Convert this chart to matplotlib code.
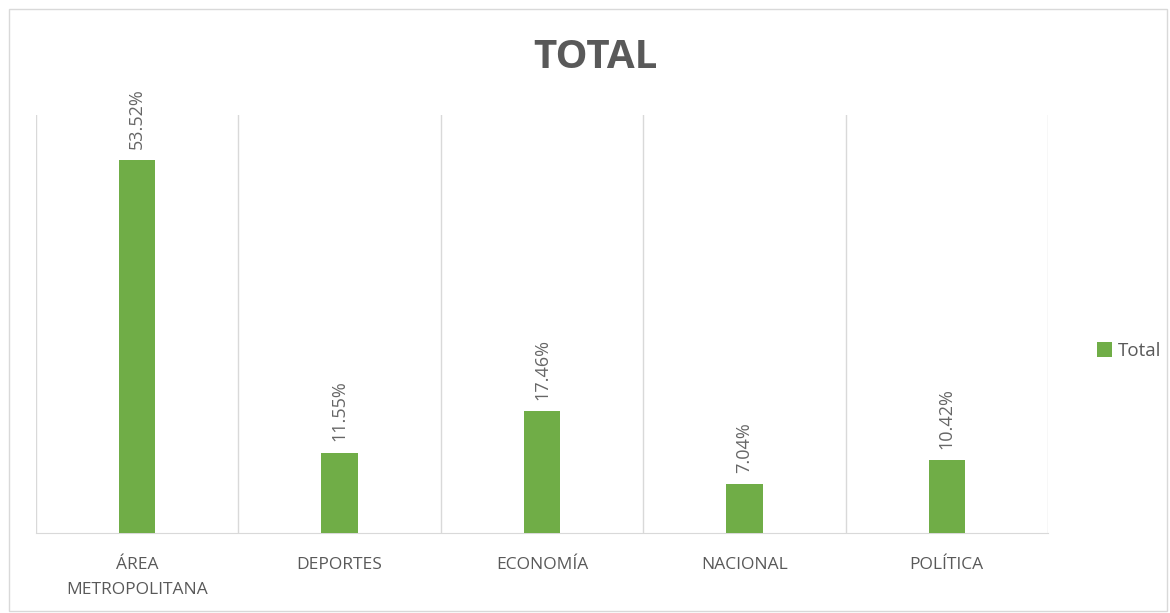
import matplotlib.pyplot as plt
from matplotlib.patches import Rectangle

categories = ['ÁREA\nMETROPOLITANA', 'DEPORTES', 'ECONOMÍA', 'NACIONAL', 'POLÍTICA']
values = [0.5352, 0.1155, 0.1746, 0.0704, 0.1042]
labels = ['53.52%', '11.55%', '17.46%', '7.04%', '10.42%']

plt.rcParams['font.family'] = ['Open Sans', 'DejaVu Sans']
grey = '#595959'
green = '#70ad47'

fig = plt.figure(figsize=(11.7, 6.13), dpi=100)
ax = fig.add_axes([36 / 1170, 1 - 533 / 613, (1048 - 36) / 1170, (533 - 115) / 613])

x = range(len(categories))
ax.bar(x, values, width=0.18, color=green, label='Total', zorder=3)
for i, (v, t) in enumerate(zip(values, labels)):
    ax.annotate(t, (i, v), xytext=(0, 8), textcoords='offset points',
                rotation=90, ha='center', va='bottom', fontsize=13, color='#666666')

ax.set_xlim(-0.5, len(categories) - 0.5)
ax.set_ylim(0, 0.6)
for b in [i + 0.5 for i in range(-1, len(categories))]:
    ax.axvline(b, color='#d9d9d9', lw=1, zorder=1)
ax.set_xticks(list(x))
ax.set_xticklabels(categories, fontsize=12.5, color=grey, linespacing=1.75)
ax.tick_params(axis='x', length=0, pad=17)
ax.set_yticks([])
for s in ['top', 'left', 'right']:
    ax.spines[s].set_visible(False)
ax.spines['bottom'].set_color('#d9d9d9')

fig.text(595 / 1170, 1 - 57 / 613, 'TOTAL', ha='center', va='center',
         fontsize=29, fontweight='bold', color=grey)
fig.legend(loc='center left', bbox_to_anchor=(1080 / 1170, 1 - 351 / 613), frameon=False,
           fontsize=13.5, handlelength=0.8, handleheight=0.8, handletextpad=0.3,
           labelcolor=grey)

fig.add_artist(Rectangle((9 / 1170, 2 / 613), 1158 / 1170, 602 / 613,
                         transform=fig.transFigure, fill=False, edgecolor='#d9d9d9', lw=1))

fig.savefig('out.png', dpi=100)
